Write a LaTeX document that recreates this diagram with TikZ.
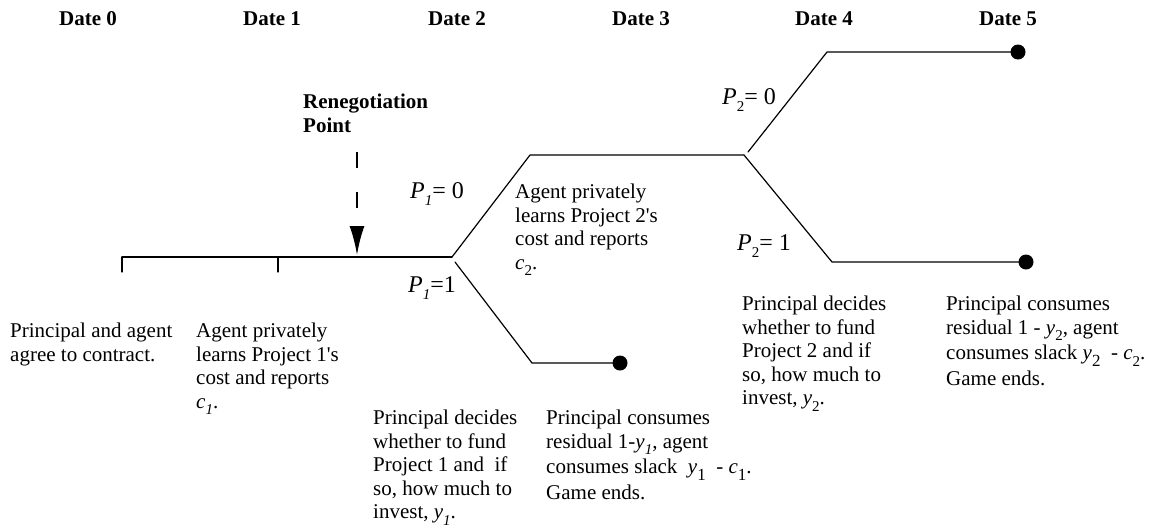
\documentclass[tikz,border=0pt]{standalone}
\usepackage{fontspec}
\setmainfont{Liberation Serif}
\usetikzlibrary{arrows.meta}
% italic variable with a lowered index
\newcommand\vsub[3][15]{\textit{#2}\raisebox{-0.3em}{\fontsize{#1}{#1}\selectfont #3}}
\newcommand\apos{\textquotesingle}

\tikzset{
  body/.style={font=\fontsize{21}{23.5}\selectfont, align=left, anchor=north west, inner sep=0pt},
  datelbl/.style={font=\fontsize{21}{23.5}\selectfont\bfseries, anchor=base, inner sep=0pt},
  plbl/.style={font=\fontsize{24}{26}\selectfont, anchor=base west, inner sep=0pt},
  conn/.style={line width=1.2pt, line cap=round, line join=round},
  enddot/.style={circle, fill=black, inner sep=0pt, minimum size=15pt},
}

\begin{document}
\begin{tikzpicture}[x=1pt, y=-1pt]
\useasboundingbox (0,0) rectangle (1156,531);

% date headings
\node[datelbl] (d0) at (88,25) {Date 0};
\node[datelbl] (d1) at (272,25) {Date 1};
\node[datelbl] (d2) at (457,25) {Date 2};
\node[datelbl] (d3) at (641,25) {Date 3};
\node[datelbl] (d4) at (824,25) {Date 4};
\node[datelbl] (d5) at (1008,25) {Date 5};

% time line and tree
\coordinate (t0) at (122,257);
\coordinate (t0b) at (122,272);
\coordinate (t1) at (278,257);
\coordinate (t1b) at (278,272);
\coordinate (j1) at (452,257);
\coordinate (j1d) at (455,262);
\coordinate (u1) at (530,155);
\coordinate (j2) at (744,155);
\coordinate (j2u) at (748,152);
\coordinate (l1) at (532,363);
\coordinate (u2) at (827,52);
\coordinate (l2) at (832,262);

\draw[conn] (t0) -- (j1);
\draw[conn] (t0) -- (t0b);
\draw[conn] (t1) -- (t1b);
\draw[conn] (j1) -- (u1) -- (j2);
\draw[conn] (j1d) -- (l1) -- (620,363);
\draw[conn] (j2u) -- (u2) -- (1018,52);
\draw[conn] (j2) -- (l2) -- (1026,262);

\node[enddot] (end1) at (620,363) {};
\node[enddot] (end2) at (1018,52) {};
\node[enddot] (end3) at (1026,262) {};

% renegotiation point
\node[font=\fontsize{21}{24}\selectfont\bfseries, align=left, anchor=north west, inner sep=0pt]
  (reneg) at (303,94) {Renegotiation\\Point};
\coordinate (rtop) at (357,152);
\coordinate (rhit) at (357,255);
\draw[line width=2pt, dash pattern=on 16pt off 24pt,
      -{Latex[length=29pt, width=15pt]}] (rtop) -- (rhit);

% branch labels
\node[plbl] (p10) at (410,198) {\vsub{P}{\textit{1}}= 0};
\node[plbl] (p11) at (408,292) {\vsub{P}{\textit{1}}=1};
\node[plbl] (p20) at (722,104) {\vsub{P}{2}= 0};
\node[plbl] (p21) at (737,250) {\vsub{P}{2}= 1};

% event descriptions
\node[body] (e0) at (10,323) {Principal and agent\\agree to contract.};
\node[body] (e1) at (196,323) {Agent privately\\learns Project 1\apos s\\cost and reports\\\vsub{c}{\textit{1}}.};
\node[body] (e2) at (373,410) {Principal decides\\whether to fund\\Project 1 and\ \ if\\so, how much to\\invest, \vsub{y}{\textit{1}}.};
\node[body] (e3) at (546,410) {Principal consumes\\residual 1-\vsub{y}{\textit{1}}, agent\\[2pt]consumes slack\ \ \vsub[17]{y}{1}\ \ -\ \vsub[17]{c}{1}.\\[2pt]Game ends.};
\node[body] (e4) at (515,184) {Agent privately\\learns Project 2\apos s\\cost and reports\\\vsub{c}{2}.};
\node[body] (e5) at (742,296) {Principal decides\\whether to fund\\Project 2 and if\\so, how much to\\invest, \vsub{y}{2}.};
\node[body] (e6) at (946,296) {Principal consumes\\residual 1 - \vsub{y}{2}, agent\\[2pt]consumes slack \vsub[17]{y}{2}\ \ - \vsub{c}{2}.\\[2pt]Game ends.};
\end{tikzpicture}
\end{document}
